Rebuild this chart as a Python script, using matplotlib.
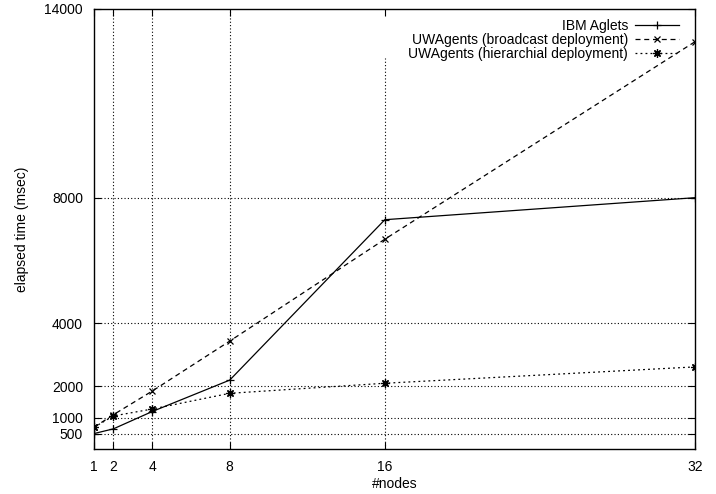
import matplotlib.pyplot as plt

plt.rcParams['font.family'] = ['Liberation Sans', 'DejaVu Sans']

nodes = [1, 2, 4, 8, 16, 32]
aglets = [500, 650, 1200, 2200, 7300, 8000]
broadcast = [700, 1100, 1850, 3440, 6680, 12960]
hierarchial = [700, 1060, 1280, 1780, 2100, 2620]

xticks = [1, 2, 4, 8, 16, 32]
yticks = [500, 1000, 2000, 4000, 8000, 14000]

fig = plt.figure(figsize=(7.16, 4.94), dpi=100)
ax = fig.add_axes([0.1313, 0.0905, 0.8394, 0.8913])

# grid (gnuplot style dotted)
for yv in [500, 1000, 2000, 4000, 8000]:
  ax.plot([1, 32], [yv, yv], color='black', lw=0.8, ls=(0, (1, 2)), zorder=1)
for xv in [2, 4, 8]:
  ax.plot([xv, xv], [0, 14000], color='black', lw=0.8, ls=(0, (1, 2)), zorder=1)
ax.plot([16, 16], [0, 12450], color='black', lw=0.8, ls=(0, (1, 2)), zorder=1)

ax.plot(nodes, aglets, color='black', lw=0.9, marker='+', ms=6, mew=0.9,
        label='IBM Aglets', zorder=3)
ax.plot(nodes, broadcast, color='black', lw=0.9, ls=(0, (4, 3)), marker='x', ms=5,
        mew=0.9, label='UWAgents (broadcast deployment)', zorder=3)
ax.plot(nodes, hierarchial, color='black', lw=0.9, ls=(0, (1.5, 2.5)), marker=(8, 2, 0),
        ms=6, mew=0.9, label='UWAgents (hierarchial deployment)', zorder=3)

ax.set_xlim(1, 32)
ax.set_ylim(0, 14000)
ax.set_xticks(xticks)
ax.set_yticks(yticks)
ax.tick_params(direction='in', length=5, width=0.8, labelsize=10, top=True, right=True, pad=8)
for s in ax.spines.values():
  s.set_linewidth(1.0)

ax.set_xlabel('#nodes', fontsize=10, labelpad=2)
ax.set_ylabel('elapsed time (msec)', fontsize=10, labelpad=11)

leg = ax.legend(loc='upper right', frameon=False, markerfirst=False, fontsize=10,
                handlelength=3.2, borderaxespad=0.3, labelspacing=0.0,
                handletextpad=0.5, bbox_to_anchor=(0.99, 1.0))
for t in leg.get_texts():
  t.set_ha('right')
leg._legend_box.align = 'right'

fig.savefig('out.png', dpi=100)
